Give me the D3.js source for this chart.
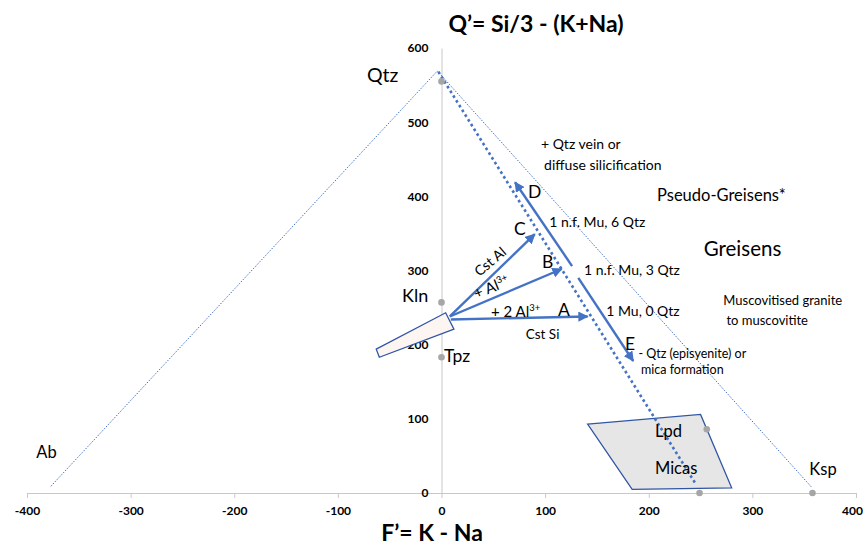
<!DOCTYPE html>
<html>
<head>
<script src="https://d3js.org/d3.v7.min.js"></script>
<style>
  body { margin: 0; background: #fff; }
  text { font-family: Lato, "Open Sans", sans-serif; fill: #000; }
</style>
</head>
<body>
<svg id="chart" width="864" height="548"></svg>
<script>
// axis ticks
const xTicks = [-400, -300, -200, -100, 0, 100, 200, 300, 400];
const yTicks = [0, 100, 200, 300, 400, 500, 600];

// triangle Ab - Qtz - Ksp (thin dotted)
const triangle = [[-377, 9], [-4, 569], [357, 8]];
// thick dotted trend line
const trendLine = [[-3, 568], [245, 13]];

// reference minerals (gray dots)
const minerals = [
  {name: "Qtz", x: 0, y: 555},
  {name: "Kln", x: 0, y: 257},
  {name: "Tpz", x: 0, y: 183},
  {name: "Lpd", x: 256, y: 86},
  {name: "Micas", x: 249, y: 0},
  {name: "Ksp", x: 358, y: 0}
];

// arrows
const arrows = [
  {id: "A", from: [9, 234], to: [141, 238]},
  {id: "B", from: [8, 238], to: [116, 302]},
  {id: "C", from: [8, 238], to: [90, 349]},
  {id: "D", from: [126, 306], to: [71, 419]},
  {id: "E", from: [132, 290], to: [185, 178]}
];

// polygons
const tpzBox = [[-63, 194], [4, 243], [12, 221], [-60, 183]];
const micaBox = [[141, 93], [250, 106], [280, 7], [184, 5]];

// labels: [text, x, y, size, anchor, rotate]
const labels = [
  ["Qtz", -72, 554, 19.5, "start", 0],
  ["Kln", -38, 257, 18, "start", 0],
  ["Tpz", 2.5, 177, 17.5, "start", 0],
  ["Ab", -391, 47, 16.5, "start", 0],
  ["Ksp", 355, 24, 16.5, "start", 0],
  ["Lpd", 206, 75.5, 16.5, "start", 0],
  ["Micas", 206, 25.5, 16.5, "start", 0],
  ["+ Qtz vein or", 96, 464, 14, "start", 0],
  ["diffuse silicification", 99, 435.5, 14, "start", 0],
  ["Pseudo-Greisens*", 208, 394, 16.5, "start", 0],
  ["Greisens", 253, 320, 20.5, "start", 0],
  ["Muscovitised granite", 272, 253.5, 13, "start", 0],
  ["to muscovitite", 275, 226.5, 13, "start", 0],
  ["1 n.f. Mu, 6 Qtz", 104, 358.5, 14, "start", 0],
  ["1 n.f. Mu, 3 Qtz", 137.5, 294, 14, "start", 0],
  ["1 Mu, 0 Qtz", 159, 238.5, 14, "start", 0],
  ["- Qtz (episyenite) or", 190, 182, 12.5, "start", 0],
  ["mica formation", 192.5, 160.5, 12.5, "start", 0],
  ["D", 83.5, 398, 17.5, "start", 0],
  ["C", 70, 348, 17.5, "start", 0],
  ["B", 97, 303, 17.5, "start", 0],
  ["A", 112.5, 238.5, 17.5, "start", 0],
  ["E", 177, 193, 17.5, "start", 0],
  ["Cst Si", 97.5, 208, 13.5, "middle", 0],
  ["Cst Al", 50, 307, 14, "middle", -40]
];

const svg = d3.select("#chart");
const x = d3.scaleLinear([-400, 400], [27, 856]);
const y = d3.scaleLinear([0, 600], [493, 48]);
const blue = "#4472c4";
const edge = "#2f55a4";

// axes
const xAxis = svg.append("g").attr("transform", `translate(0,${y(0)})`)
  .call(d3.axisBottom(x).tickValues(xTicks).tickSize(5).tickPadding(8)
    .tickFormat(d => String(d)));
xAxis.select(".domain").attr("stroke", "#c8c8c8");
xAxis.selectAll(".tick line").attr("stroke", "#c8c8c8");
xAxis.selectAll("text").attr("font-size", 12).attr("font-weight", "bold")
  .attr("font-family", "Lato, sans-serif").attr("fill", "#222");
// last label sits on the page edge, pull it in a bit
xAxis.selectAll(".tick").filter(d => d == 400).select("text").attr("dx", -4);

const yAxis = svg.append("g").attr("transform", `translate(${x(0)},0)`)
  .call(d3.axisLeft(y).tickValues(yTicks).tickSize(0).tickPadding(13)
    .tickFormat(d => String(d)));
yAxis.select(".domain").attr("stroke", "#c8c8c8");
yAxis.selectAll("text").attr("font-size", 12).attr("font-weight", "bold")
  .attr("font-family", "Lato, sans-serif").attr("fill", "#222");

// axis titles
svg.append("text").attr("x", 536).attr("y", 32).attr("text-anchor", "middle")
  .attr("font-size", 23).attr("font-weight", "bold").text("Q’= Si/3 - (K+Na)");
svg.append("text").attr("x", 432).attr("y", 541).attr("text-anchor", "middle")
  .attr("font-size", 23).attr("font-weight", "bold").text("F’= K - Na");

const line = d3.line().x(d => x(d[0])).y(d => y(d[1]));

// polygons
svg.append("path").attr("d", line(micaBox) + "Z")
  .attr("fill", "#e6e6e6").attr("stroke", edge).attr("stroke-width", 1.3);
svg.append("path").attr("d", line(tpzBox) + "Z")
  .attr("fill", "#fcf5f1").attr("stroke", edge).attr("stroke-width", 1.3);

// triangle
svg.append("path").attr("d", line(triangle))
  .attr("fill", "none").attr("stroke", blue).attr("stroke-width", 1)
  .attr("stroke-dasharray", "1.5,1.5");

// thick dotted trend
svg.append("path").attr("d", line(trendLine))
  .attr("fill", "none").attr("stroke", blue).attr("stroke-width", 2.6)
  .attr("stroke-dasharray", "2.6,3");

// gray dots
svg.selectAll("circle.min").data(minerals).join("circle")
  .attr("class", "min")
  .attr("cx", d => x(d.x)).attr("cy", d => y(d.y)).attr("r", 3.3)
  .attr("fill", "#a6a6a6");

// arrows
svg.append("defs").append("marker")
  .attr("id", "head").attr("viewBox", "0 0 10 10")
  .attr("refX", 9).attr("refY", 5)
  .attr("markerWidth", 4.3).attr("markerHeight", 4.3)
  .attr("markerUnits", "strokeWidth")
  .attr("orient", "auto")
  .append("path").attr("d", "M0,0 L10,5 L0,10 Z").attr("fill", blue);

svg.selectAll("line.arrow").data(arrows).join("line")
  .attr("class", "arrow")
  .attr("x1", d => x(d.from[0])).attr("y1", d => y(d.from[1]))
  .attr("x2", d => x(d.to[0])).attr("y2", d => y(d.to[1]))
  .attr("stroke", blue).attr("stroke-width", 2.4)
  .attr("marker-end", "url(#head)");

// labels
svg.selectAll("text.lbl").data(labels).join("text")
  .attr("class", "lbl")
  .attr("transform", d => `translate(${x(d[1])},${y(d[2])}) rotate(${d[5]})`)
  .attr("font-size", d => d[3])
  .attr("text-anchor", d => d[4])
  .text(d => d[0]);

// labels with superscripts
function supLabel(px, py, rot, main, sup) {
  const t = svg.append("text")
    .attr("transform", `translate(${x(px)},${y(py)}) rotate(${rot})`)
    .attr("font-size", 15).attr("text-anchor", "middle");
  t.append("tspan").text(main);
  t.append("tspan").attr("font-size", 9.5).attr("dy", -6).text(sup);
}
supLabel(50, 271, -22, "+ Al", "3+");
supLabel(71.5, 237, 0, "+ 2 Al", "3+");
</script>
</body>
</html>
